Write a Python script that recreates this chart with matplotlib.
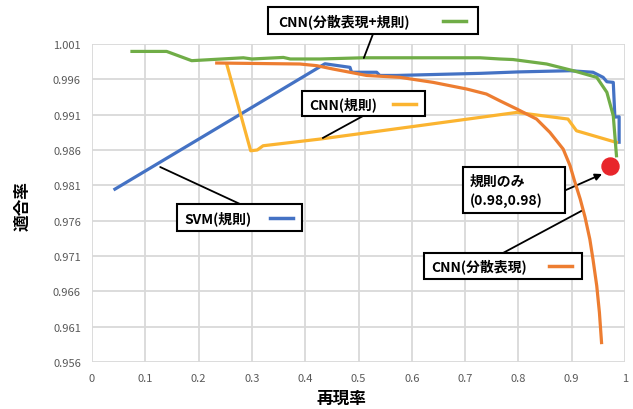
import numpy as np
import matplotlib
matplotlib.use('Agg')
import matplotlib.pyplot as plt
from matplotlib.patches import Rectangle
from matplotlib.lines import Line2D

plt.rcParams['font.family'] = ['Noto Sans CJK JP', 'DejaVu Sans']

# data
green_x = [0.075, 0.14, 0.187, 0.284, 0.30, 0.359, 0.372, 0.428, 0.509, 0.60, 0.728, 0.765,
           0.79, 0.853, 0.903, 0.947, 0.966, 0.978, 0.984]
green_y = [0.99995, 0.99995, 0.99864, 0.99905, 0.99888, 0.9991, 0.99888, 0.99888, 0.99905,
           0.99905, 0.99905, 0.99888, 0.9988, 0.99817, 0.99722, 0.99628, 0.99416, 0.99085, 0.98518]

blue_x = [0.043, 0.437, 0.484, 0.487, 0.534, 0.54, 0.572, 0.65, 0.73, 0.80, 0.897, 0.94,
          0.959, 0.966, 0.978, 0.981, 0.989, 0.989]
blue_y = [0.98046, 0.9982, 0.9977, 0.9970, 0.9970, 0.99655, 0.99655, 0.9967, 0.99685, 0.99705,
          0.99722, 0.9970, 0.99628, 0.99566, 0.99557, 0.99066, 0.9907, 0.9871]

orange_x = [0.234, 0.30, 0.39, 0.422, 0.452, 0.515, 0.578, 0.64, 0.703, 0.74, 0.765, 0.797,
            0.834, 0.859, 0.884, 0.897, 0.905, 0.916, 0.925, 0.934, 0.94, 0.947, 0.952, 0.956]
orange_y = [0.99831, 0.99825, 0.99817, 0.99793, 0.99746, 0.99655, 0.99628, 0.99557, 0.99463,
            0.99392, 0.99297, 0.9918, 0.99038, 0.9885, 0.98613, 0.98376, 0.9817, 0.97905,
            0.9765, 0.97338, 0.9705, 0.96677, 0.9630, 0.95875]

yellow_x = [0.2527, 0.2977, 0.31, 0.321, 0.428, 0.60, 0.797, 0.893, 0.909, 0.984]
yellow_y = [0.99817, 0.98589, 0.986, 0.9866, 0.98755, 0.9893, 0.99132, 0.99038, 0.98872, 0.98707]

rule_x = [0.972]
rule_y = [0.98376]

x_ticks = [0, 0.1, 0.2, 0.3, 0.4, 0.5, 0.6, 0.7, 0.8, 0.9, 1]
x_labels = ['0', '0.1', '0.2', '0.3', '0.4', '0.5', '0.6', '0.7', '0.8', '0.9', '1']
y_ticks = [0.956, 0.961, 0.966, 0.971, 0.976, 0.981, 0.986, 0.991, 0.996, 1.001]
y_labels = ['0.956', '0.961', '0.966', '0.971', '0.976', '0.981', '0.986', '0.991', '0.996', '1.001']

c_blue = '#4472C4'
c_orange = '#ED7D31'
c_green = '#70AD47'
c_yellow = '#FBB430'
c_red = '#E8262B'

W, H = 633, 410


def px(x, y):
    return (x / W, 1 - y / H)


fig = plt.figure(figsize=(6.33, 4.10), dpi=100)
ax = fig.add_axes([92 / W, 1 - 363 / H, 533 / W, 318 / H])

lw = 2.3
ax.plot(blue_x, blue_y, color=c_blue, lw=lw, zorder=3)
ax.plot(yellow_x, yellow_y, color=c_yellow, lw=lw, zorder=3)
ax.plot(orange_x, orange_y, color=c_orange, lw=lw, zorder=4)
ax.plot(green_x, green_y, color=c_green, lw=lw, zorder=3)
ax.scatter(rule_x, rule_y, s=150, color=c_red, zorder=5, clip_on=False)

ax.set_xlim(0, 1)
ax.set_ylim(0.956, 1.001)
ax.set_xticks(x_ticks)
ax.set_xticklabels(x_labels)
ax.set_yticks(y_ticks)
ax.set_yticklabels(y_labels)
ax.tick_params(length=0, labelsize=8, colors='#595959', pad=8)
ax.grid(True, color='#d9d9d9', lw=1.3)
ax.set_axisbelow(True)
for s in ax.spines.values():
    s.set_visible(False)

fig.text(*px(22, 206), '適合率', rotation=90, fontsize=12, fontweight='bold',
         ha='center', va='center')
fig.text(*px(341, 399), '再現率', fontsize=12, fontweight='bold', ha='center', va='center')

# callout boxes: (x0, y0, x1, y1) in pixels, label, text x, line segment, color
boxes = [
    ((268, 8, 478, 35), 'CNN(分散表現+規則)', 278, (443, 466), c_green),
    ((302, 92, 425, 117), 'CNN(規則)', 309, (393, 416), c_yellow),
    ((177, 205, 302, 232), 'SVM(規則)', 184, (270, 293), c_blue),
    ((424, 254, 582, 280), 'CNN(分散表現)', 431, (549, 572), c_orange),
]

# leader lines: box point (pixels) -> data point
leaders = [
    ((373, 35), (0.510, 0.99902)),
    ((363, 117), (0.433, 0.9877)),
    ((240, 205), (0.128, 0.98359)),
    ((503, 254), (0.919, 0.97741)),
]
for (bx, by), (dx, dy) in leaders:
    ax.annotate('', xy=(dx, dy), xycoords='data', xytext=px(bx, by),
                textcoords='figure fraction', annotation_clip=False,
                arrowprops=dict(arrowstyle='-', color='black', lw=1.3,
                                shrinkA=0, shrinkB=0))

ax.annotate('', xy=(0.957, 0.9826), xycoords='data', xytext=px(566, 191),
            textcoords='figure fraction', annotation_clip=False,
            arrowprops=dict(arrowstyle='-|>', color='black', lw=1.3,
                            mutation_scale=10, shrinkA=0, shrinkB=0))

for (x0, y0, x1, y1), label, tx, (lx0, lx1), col in boxes:
    fig.add_artist(Rectangle(px(x0, y1), (x1 - x0) / W, (y1 - y0) / H,
                             transform=fig.transFigure, facecolor='white',
                             edgecolor='black', lw=1.5, zorder=10))
    yc = (y0 + y1) / 2
    fig.text(*px(tx, yc), label, fontsize=10, fontweight='bold', ha='left',
             va='center', zorder=11)
    fig.add_artist(Line2D([lx0 / W, lx1 / W], [1 - yc / H, 1 - yc / H],
                          transform=fig.transFigure, color=col, lw=2.5, zorder=11))

# "rule only" box
fig.add_artist(Rectangle(px(463, 214), (565 - 463) / W, (214 - 168) / H,
                         transform=fig.transFigure, facecolor='white',
                         edgecolor='black', lw=1.5, zorder=10))
fig.text(*px(470, 182), '規則のみ', fontsize=10, fontweight='bold', ha='left',
         va='center', zorder=11)
fig.text(*px(470, 201), '(0.98,0.98)', fontsize=10, fontweight='bold', ha='left',
         va='center', zorder=11)

fig.savefig('out.png', dpi=100)
